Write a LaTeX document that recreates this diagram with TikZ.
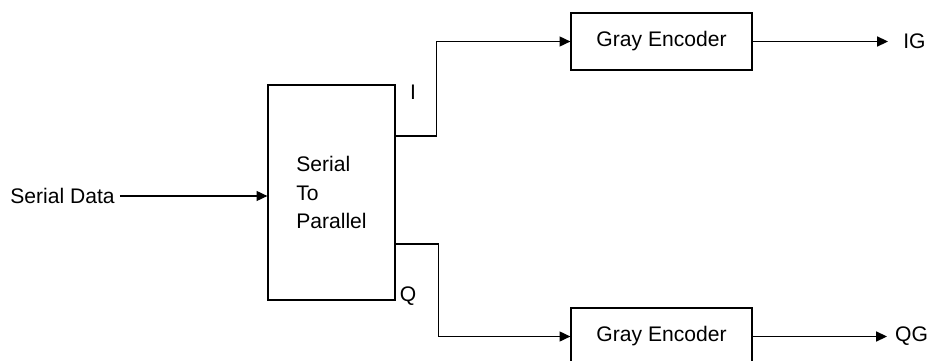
\documentclass[tikz,border=0pt]{standalone}
\usepackage{fontspec}
\setmainfont{Liberation Sans}
\usetikzlibrary{arrows.meta,positioning}
\begin{document}
\begin{tikzpicture}[
  font=\fontsize{15}{20.1}\selectfont,
  line width=0.9pt,
  blk/.style={draw,minimum width=4.525cm,minimum height=1.425cm,inner sep=0pt},
  sig/.style={-{Triangle[length=0.27cm,width=0.25cm]}}
]
\useasboundingbox (0,0) rectangle (23.25,9);

% serial to parallel converter
\node[draw,minimum width=3.175cm,minimum height=5.375cm,align=left] (s2p) at (8.2875,4.1875) {Serial\\To\\Parallel};
\node (sd) at (1.5625,4.1) {Serial Data};
\draw[sig] (sd.east) -- (sd.east -| s2p.west);

% encoders
\node[blk] (encI) at (16.5375,7.9625) {Gray Encoder};
\node[blk] (encQ) at (16.5375,0.5875) {Gray Encoder};

\node (lbI) at (10.325,6.7) {I};
\node (lbQ) at (10.2,1.6) {Q};
\draw[sig] ([yshift=1.41cm]s2p.east) -- ++(1.02,0) |- (encI.west);
\draw[sig] ([yshift=-1.29cm]s2p.east) -- ++(1.075,0) |- (encQ.west);

% outputs
\coordinate (igtip) at (22.2,7.9625);
\coordinate (qgtip) at (22.175,0.5875);
\draw[sig] (encI.east) -- (igtip);
\draw[sig] (encQ.east) -- (qgtip);
\node[right=0.25cm of igtip] (ig) {IG};
\node[right=0.07cm of qgtip] (qg) {QG};
\end{tikzpicture}
\end{document}
